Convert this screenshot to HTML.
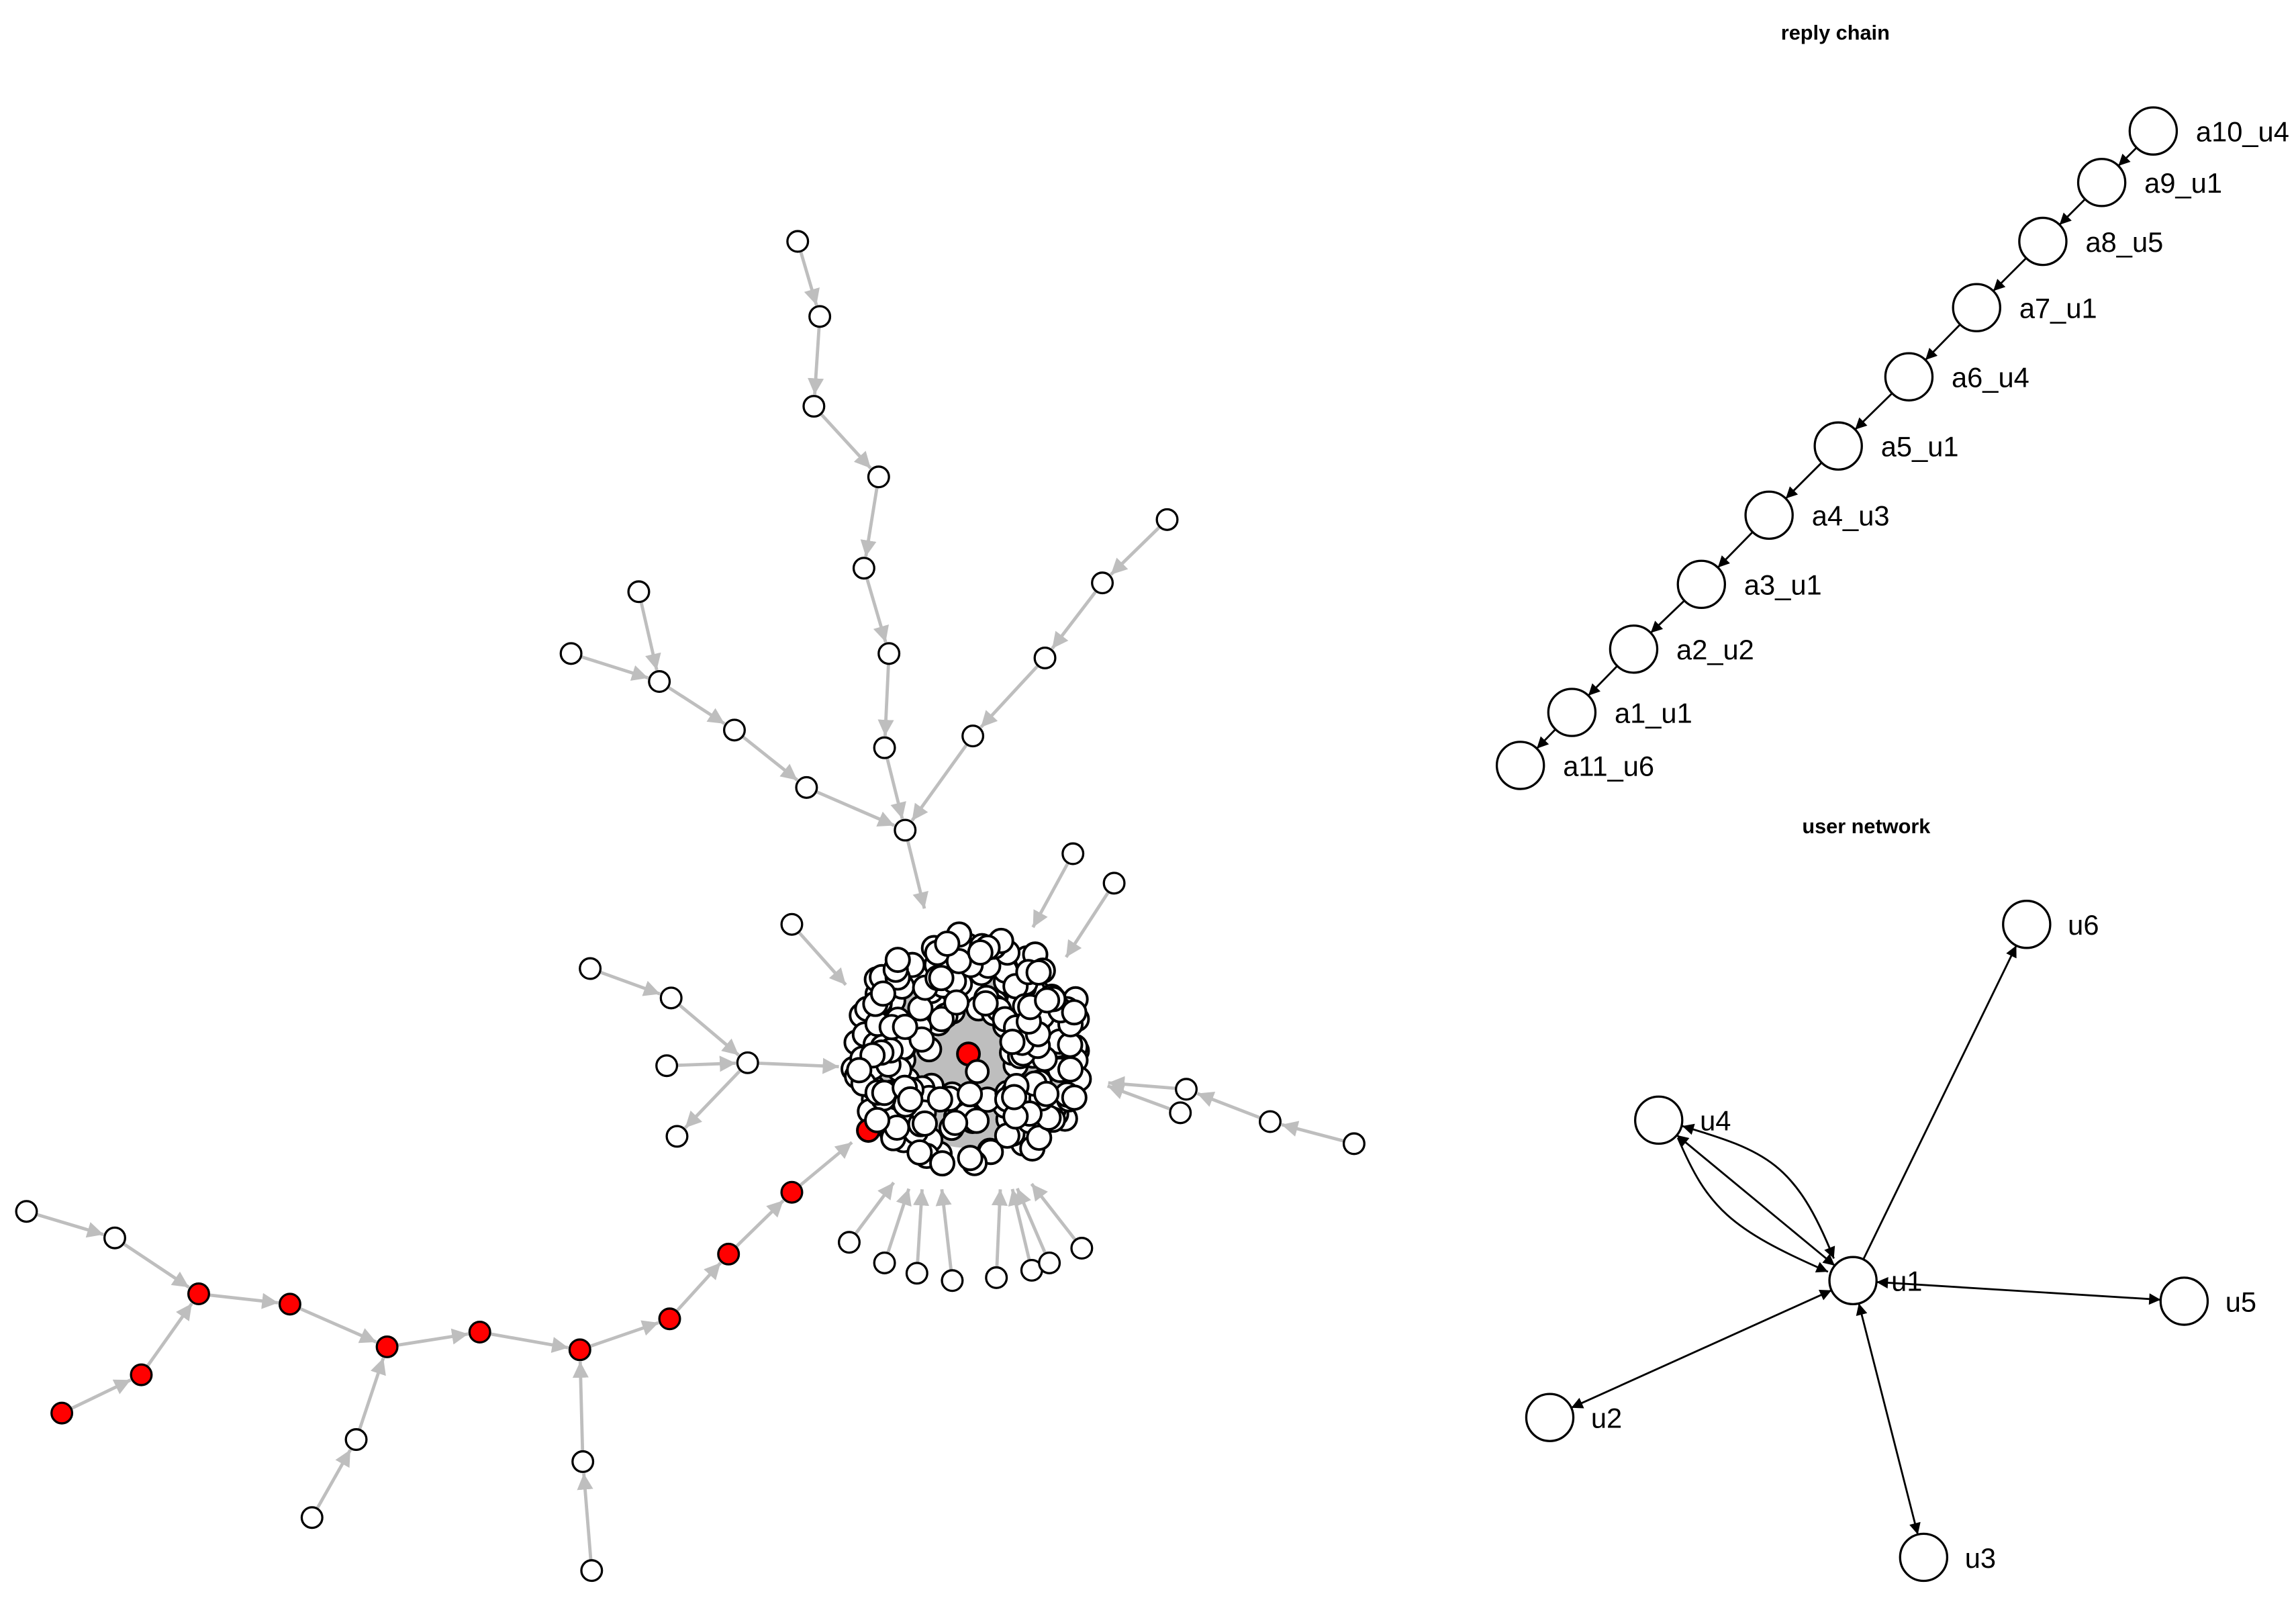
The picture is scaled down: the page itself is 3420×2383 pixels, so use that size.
<!DOCTYPE html>
<html><head><meta charset="utf-8"><style>html,body{margin:0;padding:0;background:#fff}svg{display:block}</style></head>
<body>
<svg id="s" xmlns="http://www.w3.org/2000/svg" width="3420" height="2383" viewBox="0 0 1560 1087" preserveAspectRatio="none">
<defs>
<marker id="ag" viewBox="0 0 10 10" refX="10" refY="5" markerWidth="5" markerHeight="5" markerUnits="strokeWidth" orient="auto"><path d="M0,0L10,5L0,10z" fill="#bebebe"/></marker>
<marker id="ab" viewBox="0 0 10 10" refX="10" refY="5" markerWidth="8" markerHeight="6" markerUnits="strokeWidth" orient="auto-start-reverse"><path d="M0,0L10,5L0,10z" fill="#000"/></marker>
</defs>
<rect width="1560" height="1087" fill="#fff"/>
<g id="edges"></g><g id="nodes"></g>
<g font-family="Liberation Sans, sans-serif" fill="#000">
<text x="1247" y="27" font-size="14" font-weight="bold" text-anchor="middle">reply chain</text>
<text x="1268" y="566" font-size="14" font-weight="bold" text-anchor="middle">user network</text>
</g>
<g id="lab" font-family="Liberation Sans, sans-serif" font-size="19" fill="#000"></g>
</svg>
<script>
var NS="http://www.w3.org/2000/svg";
var E=document.getElementById('edges'),N=document.getElementById('nodes'),L=document.getElementById('lab');
function el(t,a,p){var e=document.createElementNS(NS,t);for(var k in a)e.setAttribute(k,a[k]);p.appendChild(e);return e;}
function line(a,b,ra,rb,col,w,mk,both){var dx=b[0]-a[0],dy=b[1]-a[1],d=Math.hypot(dx,dy),ux=dx/d,uy=dy/d;
 var at={x1:a[0]+ux*ra,y1:a[1]+uy*ra,x2:b[0]-ux*rb,y2:b[1]-uy*rb,stroke:col,'stroke-width':w,'marker-end':'url(#'+mk+')'};
 if(both)at['marker-start']='url(#'+mk+')';el('line',at,E);}
function node(p,r,f,sw){el('circle',{cx:p[0],cy:p[1],r:r,fill:f,stroke:'#000','stroke-width':sw||1.5},N);}
el('circle',{cx:659,cy:714,r:66,fill:'#bebebe'},E);
var G='#bebebe',R='#ff0000';
var ge=[[[542,164],[557,215]],[[557,215],[553,276]],[[553,276],[597,324]],[[597,324],[587,386]],[[587,386],[604,444]],[[604,444],[601,508]],[[601,508],[615,564]],[[615,564],[630,625]],
[[434,402],[448,463]],[[388,444],[448,463]],[[448,463],[499,496]],[[499,496],[548,535]],[[548,535],[615,564]],
[[793,353],[749,396]],[[749,396],[710,447]],[[710,447],[661,500]],[[661,500],[615,564]],
[[729,580],[698,637]],[[757,600],[720,657]],[[538,628],[580,675]],
[[401,658],[456,678]],[[456,678],[508,722]],[[453,724],[508,722]],[[508,722],[460,772]],[[508,722],[578,725]],
[[920,777],[863,762]],[[863,762],[806,740]],[[806,740],[745,735]],[[802,756],[745,735]],
[[577,844],[612,797]],[[601,858],[620,800]],[[623,865],[627,800]],[[647,870],[639,800]],[[677,868],[680,800]],[[701,863],[686,800]],[[713,858],[688,800]],[[735,848],[696,798]],
[[538,810],[585,771]],[[495,852],[538,810]],[[455,896],[495,852]],[[394,917],[455,896]],[[326,905],[394,917]],[[263,915],[326,905]],[[197,886],[263,915]],[[135,879],[197,886]],[[78,841],[135,879]],[[18,823],[78,841]],[[96,934],[135,879]],[[42,960],[96,934]],[[242,978],[263,915]],[[212,1031],[242,978]],[[396,993],[394,917]],[[402,1067],[396,993]]];
ge.forEach(function(e){line(e[0],e[1],7,8,G,2.2,'ag');});
var seed=11;function rnd(){seed=(seed*16807)%2147483647;return seed/2147483647;}
var cl=[];
for(var i=0;i<240;i++){var a=rnd()*Math.PI*2,rr=Math.sqrt(0.12+0.88*rnd())*80;cl.push([659+Math.cos(a)*rr,714+Math.sin(a)*rr]);}
cl.forEach(function(p){node(p,8,'#fff',1.8);});
node([590,768],7.5,R,1.8);
node([596,761],8,'#fff',1.8);
node([658,716],7.5,R,1.8);
node([664,728],7.5,'#fff',1.8);
var gn=[[542,164],[557,215],[553,276],[597,324],[587,386],[604,444],[601,508],[615,564],[434,402],[388,444],[448,463],[499,496],[548,535],[793,353],[749,396],[710,447],[661,500],[729,580],[757,600],[538,628],[401,658],[456,678],[453,724],[508,722],[460,772],[920,777],[863,762],[806,740],[802,756],[577,844],[601,858],[623,865],[647,870],[677,868],[701,863],[713,858],[735,848],[78,841],[18,823],[242,978],[212,1031],[396,993],[402,1067]];
gn.forEach(function(p){node(p,7,'#fff');});
[[42,960],[96,934],[135,879],[197,886],[263,915],[326,905],[394,917],[455,896],[495,852],[538,810]].forEach(function(p){node(p,7,R);});
var ch=[[1463,89,'a10_u4'],[1428,124,'a9_u1'],[1388,164,'a8_u5'],[1343,209,'a7_u1'],[1297,256,'a6_u4'],[1249,303,'a5_u1'],[1202,350,'a4_u3'],[1156,397,'a3_u1'],[1110,441,'a2_u2'],[1068,484,'a1_u1'],[1033,520,'a11_u6']];
for(var i=0;i<ch.length-1;i++)line(ch[i],ch[i+1],16,16,'#000',1.3,'ab');
ch.forEach(function(c){node(c,16,'#fff');var t=el('text',{x:c[0]+29,y:c[1]+7},L);t.textContent=c[2];});
var U={u6:[1377,628],u4:[1127,761],u1:[1259,870],u5:[1484,884],u2:[1053,963],u3:[1307,1058]};
line(U.u1,U.u6,16,16,'#000',1.3,'ab');
line(U.u1,U.u5,16,16,'#000',1.3,'ab',true);
line(U.u1,U.u2,16,16,'#000',1.3,'ab',true);
line(U.u1,U.u3,16,16,'#000',1.3,'ab',true);
line(U.u4,U.u1,16,16,'#000',1.3,'ab',true);
el('path',{d:'M1140,773 C1160,820 1175,835 1242,864',fill:'none',stroke:'#000','stroke-width':1.3,'marker-end':'url(#ab)'},E);
el('path',{d:'M1143,765 C1200,782 1220,790 1246,855',fill:'none',stroke:'#000','stroke-width':1.3,'marker-end':'url(#ab)','marker-start':'url(#ab)'},E);
for(var k in U){node(U[k],16,'#fff');var t=el('text',{x:U[k][0]+(k=='u1'?26:28),y:U[k][1]+7},L);t.textContent=k;}
</script>
</body></html>
